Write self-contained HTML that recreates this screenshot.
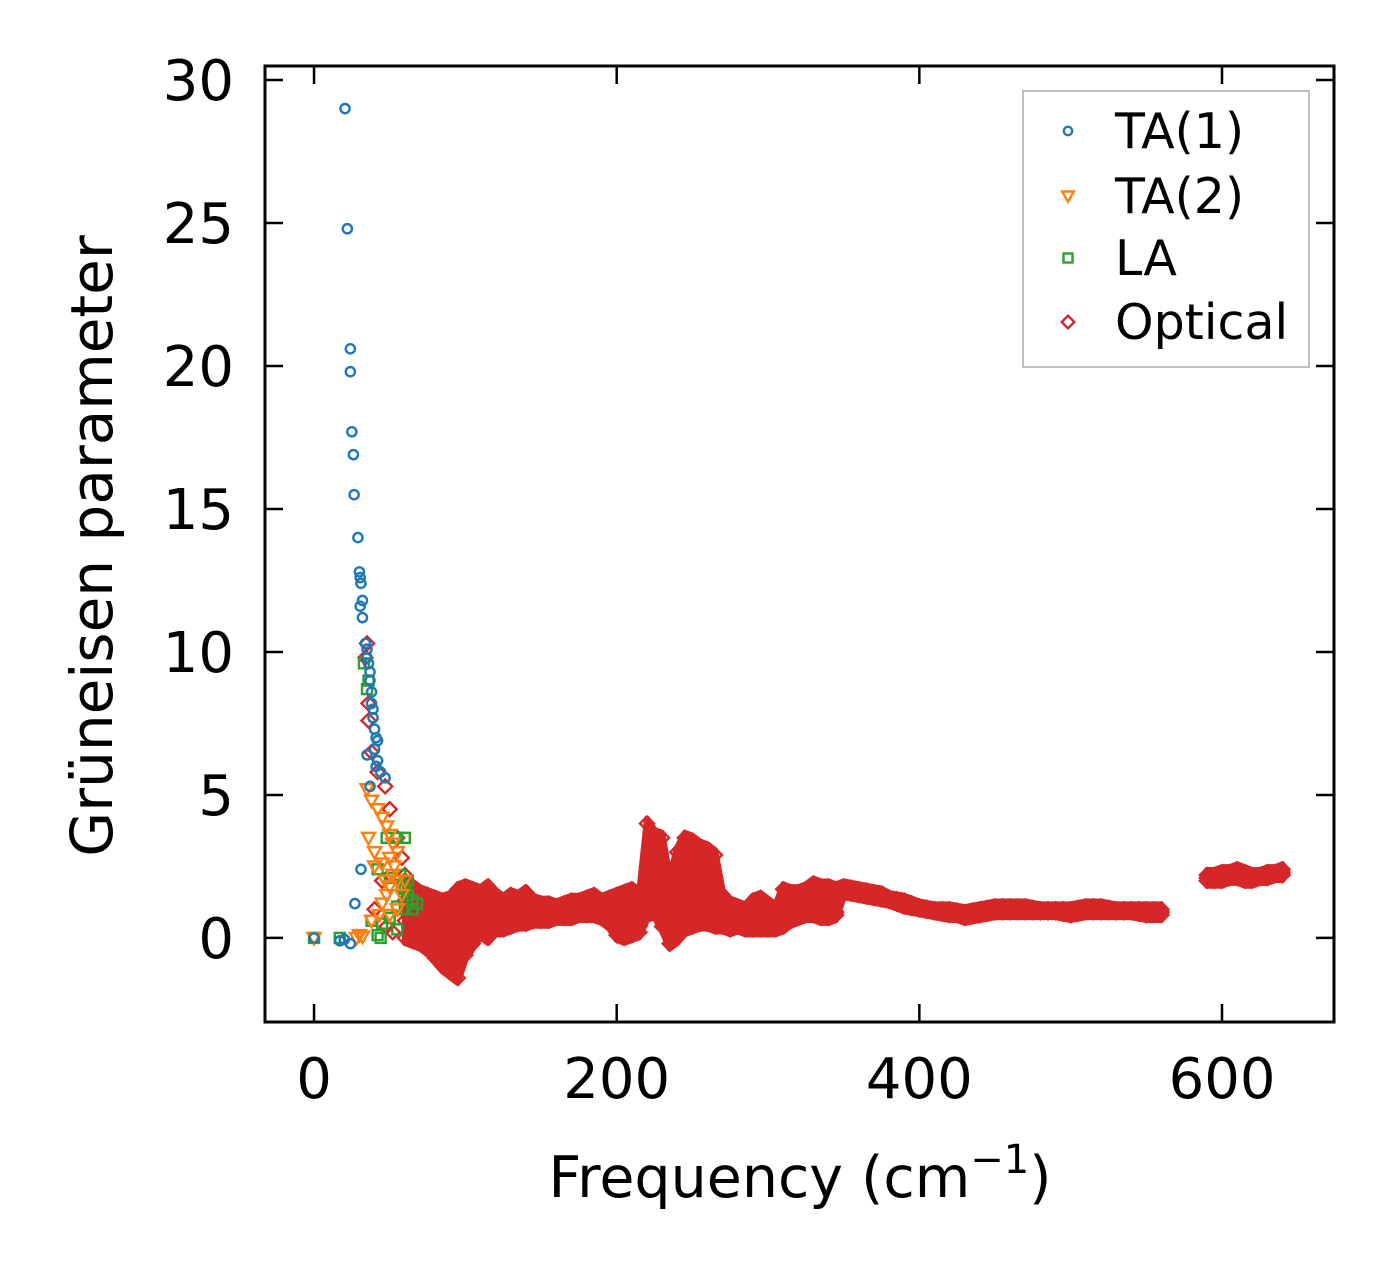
<!DOCTYPE html>
<html><head><meta charset="utf-8"><style>
html,body{margin:0;padding:0;background:#fff}
svg{display:block}
text{font-family:"DejaVu Sans","Liberation Sans",sans-serif;fill:#000}
</style></head><body>
<svg id="chart" width="1394" height="1270" xmlns="http://www.w3.org/2000/svg">
<g id="marks"></g>
<g id="axes"></g>
<g id="legend"></g>
</svg>
<script>
const xTicks=[0,200,400,600];
const yTicks=[0,5,10,15,20,25,30];
const ta1X=[20.5,22,24,24,25,26,26.5,29,30,30.5,31,32,30.5,32,34,35,35,36,37,37,38,38,39,39,40,41,42,40,35,42,41,44,47,37,31,27,0,17,24,20];
const ta1Y=[29.0,24.8,20.6,19.8,17.7,16.9,15.5,14.0,12.8,12.6,12.4,11.8,11.6,11.2,10.3,10.1,9.8,9.6,9.3,9.0,8.6,8.2,8.0,7.7,7.3,7.0,6.9,6.6,6.4,6.2,6.0,5.8,5.6,5.3,2.4,1.2,0,-0.1,-0.2,-0.05];
const ta2X=[35,38,42,45,48,50,52,55,50,53,36,40,45,52,55,50,48,45,43,50,55,58,60,30,32,28,0,40,47,38];
const ta2Y=[5.2,4.8,4.5,4.2,3.9,3.6,3.3,3.0,2.8,2.5,3.5,3.0,2.6,2.2,2.0,1.8,1.5,1.2,0.8,0.8,1.0,1.5,2.0,0.1,0.05,0.0,0,2.5,2.0,0.6];
const laX=[35,33,36,48,55,60,42,50,57,60,62,65,55,50,45,42,44,38,60,65,68,62,58,0,17,55];
const laY=[8.7,9.6,9.0,3.5,3.5,3.5,2.4,2.1,2.2,1.7,1.5,1.3,1.1,0.7,0.5,0.1,0.0,0.6,1.0,1.0,1.2,2.0,1.8,0,0,0.3];
const optExtraX=[35,34,36,38,42,47,50,55,58,60,45,40,48,52,36];
const optExtraY=[10.3,9.8,7.6,6.5,5.8,5.3,4.5,3.5,2.8,2.2,2.0,1.0,0.4,0.2,8.2];
const optX=[60,65,70,75,80,85,90,95,100,105,110,115,120,125,130,135,140,145,150,155,160,165,170,175,180,185,190,195,200,205,210,215,220,225,230,235,240,245,250,255,260,265,270,275,280,285,290,295,300,305,310,315,320,325,330,335,340,345,
350,355,360,365,370,375,380,385,390,395,400,405,410,415,420,425,430,435,440,445,450,455,460,465,470,475,480,485,490,495,500,505,510,515,520,525,530,535,540,545,550,555,560,
590,595,600,605,610,615,620,625,630,635,640];
const optY1=[2.0,1.8,1.6,1.5,1.4,1.3,1.4,1.7,1.8,1.7,1.6,1.8,1.5,1.3,1.5,1.4,1.6,1.3,1.2,1.2,1.1,1.2,1.3,1.3,1.4,1.5,1.3,1.4,1.5,1.6,1.7,1.5,4.0,3.6,3.5,2.0,3.0,3.5,3.4,3.2,3.1,2.9,1.5,1.2,1.1,1.0,1.3,1.4,1.2,1.0,1.7,1.6,1.6,1.7,1.9,1.8,1.8,1.7,
1.8,1.75,1.7,1.65,1.6,1.55,1.4,1.35,1.3,1.2,1.1,1.05,1.0,1.0,1.0,0.95,0.9,0.95,1.0,1.05,1.1,1.1,1.1,1.1,1.1,1.05,1.0,1.0,1.0,1.0,1.0,1.05,1.1,1.1,1.1,1.05,1.0,1.0,1.0,1.0,1.0,1.0,1.0,
2.2,2.2,2.3,2.3,2.4,2.3,2.2,2.2,2.3,2.3,2.4];
const optY2=[1.3,1.2,1.0,0.8,0.6,0.5,0.6,0.9,1.1,1.2,1.1,1.0,1.0,1.0,1.1,1.0,1.1,1.0,1.0,1.0,1.0,1.0,1.1,1.1,1.1,1.2,1.1,1.1,1.0,1.1,1.2,1.0,2.5,1.6,1.9,1.3,2.0,2.5,2.5,2.3,2.2,2.0,1.0,0.9,0.9,0.8,0.9,1.0,0.9,0.7,1.0,1.2,1.1,1.2,1.5,1.5,1.5,1.4,
1.7,1.65,1.6,1.55,1.5,1.45,1.4,1.3,1.2,1.15,1.1,1.0,1.0,0.95,0.9,0.9,0.9,0.9,0.9,0.95,1.0,1.0,1.0,1.0,1.0,1.0,1.0,1.0,1.0,1.0,1.0,1.0,1.0,1.0,1.0,1.0,1.0,1.0,1.0,1.0,0.9,0.9,0.9,
2.1,2.1,2.2,2.2,2.3,2.2,2.1,2.2,2.2,2.2,2.3];
const optY3=[0.6,0.5,0.3,0.1,-0.2,-0.3,-0.3,0.0,0.4,0.6,0.6,0.5,0.6,0.6,0.7,0.7,0.7,0.7,0.8,0.8,0.8,0.9,0.9,0.9,0.9,1.0,0.9,0.8,0.5,0.4,0.5,0.4,1.5,1.1,1.0,0.4,1.0,1.5,1.5,1.4,1.3,1.1,0.6,0.6,0.6,0.5,0.5,0.6,0.5,0.5,0.7,0.8,0.8,0.9,0.9,0.8,0.8,0.9,
1.6,1.6,1.6,1.5,1.5,1.4,1.3,1.3,1.2,1.1,1.0,1.0,0.9,0.9,0.9,0.85,0.8,0.85,0.9,0.9,0.9,0.95,1.0,1.0,1.0,0.95,0.9,0.9,0.9,0.9,0.9,0.95,1.0,1.0,1.0,0.95,0.9,0.9,0.9,0.9,0.9,0.9,0.9,
2.0,2.0,2.1,2.1,2.2,2.1,2.1,2.1,2.1,2.2,2.2];
const optY4=[0.0,-0.1,-0.2,-0.4,-0.7,-1.0,-1.2,-1.4,-0.6,-0.2,0.2,0.0,0.3,0.3,0.4,0.5,0.5,0.6,0.6,0.6,0.7,0.7,0.7,0.8,0.8,0.8,0.7,0.5,0.1,0.0,0.1,0.2,0.8,0.9,0.4,-0.2,0.0,0.3,0.4,0.5,0.5,0.4,0.4,0.3,0.4,0.3,0.3,0.3,0.3,0.3,0.4,0.6,0.7,0.8,0.8,0.7,0.7,0.8,
1.6,1.55,1.5,1.45,1.4,1.35,1.3,1.2,1.1,1.05,1.0,0.95,0.9,0.85,0.8,0.8,0.7,0.75,0.8,0.85,0.9,0.9,0.9,0.9,0.9,0.9,0.9,0.9,0.9,0.85,0.8,0.85,0.9,0.9,0.9,0.9,0.9,0.9,0.9,0.85,0.8,0.8,0.8,
2.0,2.0,2.0,2.1,2.1,2.0,2.0,2.1,2.1,2.2,2.2];

const L=265,R=1334,T=66,B=1022;
const X0=-32.4,X1=674,Y0=-2.94,Y1=30.49;
const sx=v=>L+(v-X0)/(X1-X0)*(R-L);
const sy=v=>B-(v-Y0)/(Y1-Y0)*(B-T);
const NS='http://www.w3.org/2000/svg';
const C1='#1f77b4',C2='#ff7f0e',C3='#2ca02c',C4='#d62728';
function mk(tag,attrs,parent){const e=document.createElementNS(NS,tag);for(const k in attrs)e.setAttribute(k,attrs[k]);parent.appendChild(e);return e;}
const marks=document.getElementById('marks');
function marker(type,cx,cy,color,parent,s){
  s=s||1;let e;
  if(type==='circle')e=mk('circle',{cx:cx,cy:cy,r:4.6*s,fill:'none',stroke:color,'stroke-width':2.4},parent);
  else if(type==='tri')e=mk('polygon',{points:`${cx-6.5*s},${cy-5*s} ${cx+6.5*s},${cy-5*s} ${cx},${cy+6.5*s}`,fill:'none',stroke:color,'stroke-width':2.4},parent);
  else if(type==='sq')e=mk('rect',{x:cx-5*s,y:cy-5*s,width:10*s,height:10*s,fill:'none',stroke:color,'stroke-width':2.4},parent);
  else e=mk('polygon',{points:`${cx},${cy-7*s} ${cx+7*s},${cy} ${cx},${cy+7*s} ${cx-7*s},${cy}`,fill:'none',stroke:color,'stroke-width':2.4},parent);
  return e;
}
const gOpt=mk('g',{},marks);


// dense band fill between top and bottom optical branches (per contiguous segment)
function bandSegment(i0,i1){
  const pts=[];
  for(let i=i0;i<=i1;i++)pts.push(`${sx(optX[i])},${sy(Math.max(optY1[i],optY2[i]))-5}`);
  for(let i=i1;i>=i0;i--)pts.push(`${sx(optX[i])},${sy(Math.min(optY3[i],optY4[i]))+5}`);
  const p=mk('polygon',{points:pts.join(' '),fill:C4,stroke:C4,'stroke-width':6,'stroke-linejoin':'round'},gOpt);
  
  
}
let segStart=0;
for(let i=1;i<=optX.length;i++){
  if(i===optX.length||optX[i]-optX[i-1]>10){bandSegment(segStart,i-1);segStart=i;}
}
[optY1,optY2,optY3,optY4].forEach(arr=>{
  arr.forEach((v,i)=>{const e=marker('dia',sx(optX[i]),sy(v),C4,gOpt);
    
    });
});
optExtraX.forEach((v,i)=>{const e=marker('dia',sx(v),sy(optExtraY[i]),C4,gOpt);
  
  });
const gLA=mk('g',{},marks);


laX.forEach((v,i)=>{const e=marker('sq',sx(v),sy(laY[i]),C3,gLA);
  
  });
const gTA2=mk('g',{},marks);


ta2X.forEach((v,i)=>{const e=marker('tri',sx(v),sy(ta2Y[i]),C2,gTA2);
  
  });
const gTA1=mk('g',{},marks);


ta1X.forEach((v,i)=>{const e=marker('circle',sx(v),sy(ta1Y[i]),C1,gTA1);
  
  });

const axes=document.getElementById('axes');
const frame=mk('rect',{x:L,y:T,width:R-L,height:B-T,fill:'none',stroke:'#000','stroke-width':3},axes);


xTicks.forEach(v=>{const x=sx(v);
  mk('line',{x1:x,y1:B,x2:x,y2:B-18,stroke:'#000','stroke-width':2.5},axes);
  mk('line',{x1:x,y1:T,x2:x,y2:T+18,stroke:'#000','stroke-width':2.5},axes);
  const t=mk('text',{x:x,y:1098,'text-anchor':'middle','font-size':56},axes);t.textContent=v;
  
  });
yTicks.forEach(v=>{const y=sy(v);
  mk('line',{x1:L,y1:y,x2:L+18,y2:y,stroke:'#000','stroke-width':2.5},axes);
  mk('line',{x1:R,y1:y,x2:R-18,y2:y,stroke:'#000','stroke-width':2.5},axes);
  const t=mk('text',{x:234,y:y+20,'text-anchor':'end','font-size':56},axes);t.textContent=v;
  
  });
const xl=mk('text',{x:800,y:1197,'text-anchor':'middle','font-size':57},axes);
xl.innerHTML='Frequency (cm<tspan dy="-24" font-size="40">−1</tspan><tspan dy="24">)</tspan>';


const yl=mk('text',{x:0,y:0,'text-anchor':'middle','font-size':58,transform:'translate(112,546) rotate(-90)'},axes);
yl.textContent='Grüneisen parameter';



const lg=document.getElementById('legend');
const box=mk('rect',{x:1023,y:91,width:286,height:276,fill:'#fff',stroke:'#aaa','stroke-width':1.5},lg);


const entries=[['circle','TA(1)',C1,131],['tri','TA(2)',C2,196],['sq','LA',C3,258],['dia','Optical',C4,322]];
entries.forEach(en=>{const g=mk('g',{},lg);
  
  
  marker(en[0],1068,en[3],en[2],g,0.9);
  const t=mk('text',{x:1115,y:en[3]+17,'font-size':49},g);t.textContent=en[1];});
</script>
</body></html>
